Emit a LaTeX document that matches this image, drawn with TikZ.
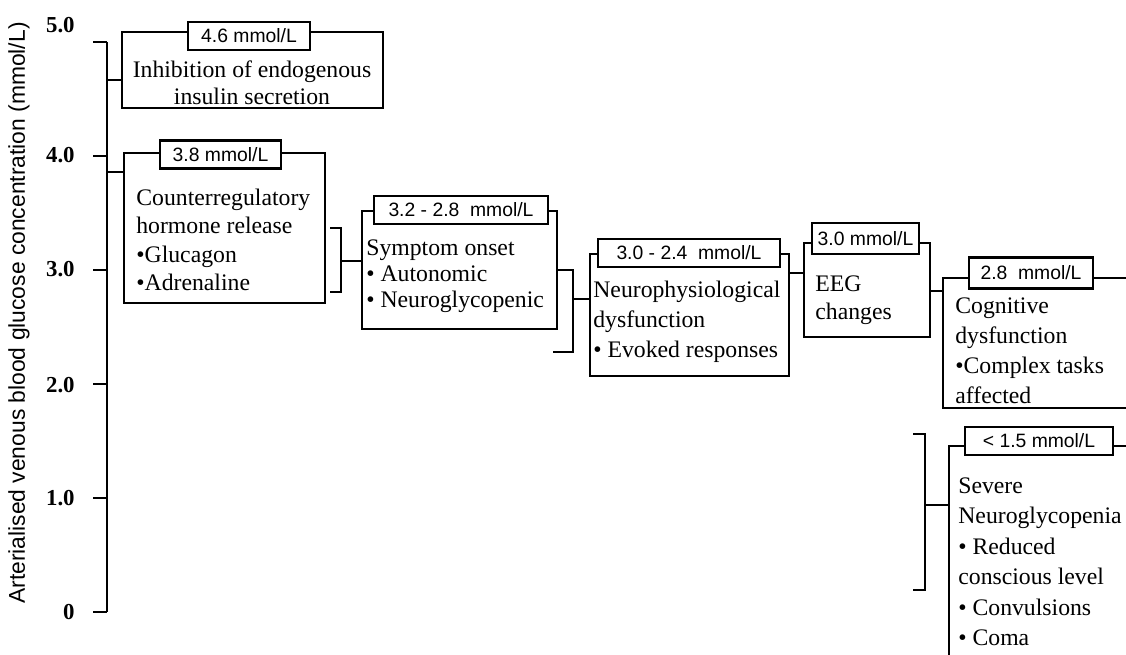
\documentclass[tikz,border=0pt]{standalone}
\usepackage{fontspec}
\setmainfont{Liberation Serif}
\setsansfont{Liberation Sans}
\usetikzlibrary{fit}

\begin{document}
\begin{tikzpicture}[x=0.02cm,y=-0.02cm,
	line/.style={line width=1.6pt},
	box/.style={draw,line width=1.6pt,inner sep=0pt},
	tag/.style={draw,fill=white,line width=1.6pt,inner sep=0pt,minimum width=#1*0.02cm,minimum height=0.56cm,font=\sffamily\fontsize{11}{13}\selectfont},
	txt/.style={inner sep=0pt,anchor=north west,align=left,execute at begin node=\strut,font=\fontsize{13.5}{#1}\selectfont},
	txt/.default=16,
	tick/.style={anchor=east,inner sep=0pt,font=\bfseries\fontsize{13}{15}\selectfont}]
	\useasboundingbox (0,0) rectangle (1126,654);
	% axis
	\coordinate (ytop) at (107,42);
	\coordinate (ybot) at (107,612);
	\draw[line] (ytop) -- (ybot);
	\foreach \v/\y/\ly in {5.0/42/25,4.0/156/155,3.0/270/269,2.0/384/385,1.0/498/498,0/612/612}
	{
		\draw[line] (93,\y) -- (ytop |- 0,\y);
		\node[tick] (tk\y) at (75,\ly) {\v};
	}
	\node[rotate=90,font=\sffamily\fontsize{13}{15}\selectfont] (ylab) at (19,313) {Arterialised venous blood glucose concentration (mmol/L)};
	% boxes
	\node[box,fit={(122,32)(383,108)}] (inhib) {};
	\node[tag=122] (tinhib) at (249,36) {4.6 mmol/L};
	\node[txt=15.4,anchor=north,align=center] (xinhib) at (252,60) {Inhibition of endogenous\\insulin secretion};
	\node[box,fit={(124,153)(325,303)}] (counter) {};
	\node[tag=121] (tcounter) at (220.5,154.5) {3.8 mmol/L};
	\node[txt] (xcounter) at (136,189) {Counterregulatory\\hormone release\\•Glucagon\\•Adrenaline};
	\node[box,fit={(362,211)(557,329)}] (symptom) {};
	\node[tag=174] (tsymptom) at (461,210) {3.2 - 2.8\ \ mmol/L};
	\node[txt=15] (xsymptom) at (366,239) {Symptom onset\\• Autonomic\\• Neuroglycopenic};
	\node[box,fit={(590,254)(789,376)}] (neuro) {};
	\node[tag=182] (tneuro) at (689,253) {3.0 - 2.4\ \ mmol/L};
	\node[txt=17] (xneuro) at (593,281) {Neurophysiological\\dysfunction\\• Evoked responses};
	\node[box,fit={(804,243)(930,337)}] (eeg) {};
	\node[tag=107,minimum height=0.62cm] (teeg) at (865.5,238.5) {3.0 mmol/L};
	\node[txt] (xeeg) at (815,275) {EEG\\changes};
	\node[box,fit={(943,278)(1150,408)}] (cog) {};
	\node[tag=124,minimum height=0.62cm] (tcog) at (1031,273) {2.8\ \ mmol/L};
	\node[txt=17.2] (xcog) at (955,297) {Cognitive\\dysfunction\\•Complex tasks\\affected};
	\node[box,fit={(949,446)(1150,700)}] (severe) {};
	\node[tag=148] (tsevere) at (1039,441) {< 1.5 mmol/L};
	\node[txt=17.4] (xsevere) at (958,477) {Severe\\Neuroglycopenia\\• Reduced\\conscious level\\• Convulsions\\• Coma};
	% connectors
	\draw[line] (ytop |- 0,80) -- (inhib.west |- 0,80);
	\draw[line] (ytop |- 0,172) -- (counter.west |- 0,172);
	\coordinate (br1) at (341,261);
	\draw[line] (330,228) -| (br1) |- (330,292);
	\draw[line] (br1) -- (symptom.west |- br1);
	\coordinate (br2) at (573,299);
	\draw[line] (symptom.east |- 0,270) -| (br2) |- (553,352);
	\draw[line] (br2) -- (neuro.west |- br2);
	\draw[line] (neuro.east |- 0,273) -- (eeg.west |- 0,273);
	\draw[line] (eeg.east |- 0,291) -- (cog.west |- 0,291);
	\coordinate (br3) at (925,505);
	\draw[line] (913,434) -| (br3) |- (913,590);
	\draw[line] (br3) -- (severe.west |- br3);
\end{tikzpicture}
\end{document}
